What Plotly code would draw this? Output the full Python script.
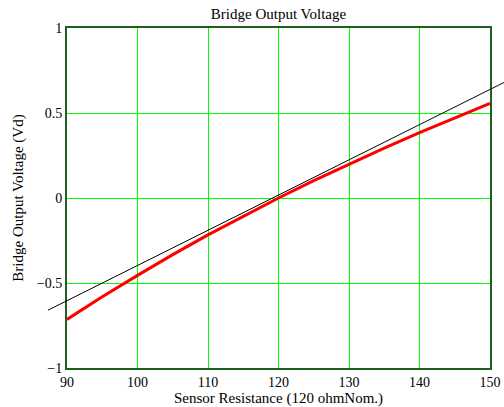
import plotly.graph_objects as go

# Sensor resistance (ohm) and bridge output (V)
resistance = [90, 95, 100, 105, 110, 115, 120, 125, 130, 135, 140, 145, 150]
vd_bridge = [-0.714, -0.581, -0.455, -0.333, -0.217, -0.106, 0.0,
             0.102, 0.200, 0.294, 0.385, 0.472, 0.556]

# Linear approximation line (extends past the plot frame)
lin_r = [87.3, 152.0]
lin_v = [-0.66, 0.68]

x_ticks = [90, 100, 110, 120, 130, 140, 150]
y_ticks = [-1, -0.5, 0, 0.5, 1]

W, H = 504, 407
L, R, T, B = 40, 0, 28, 39
plot_w = W - L - R
px_left, px_right = 67, 490
dom0 = (px_left - L) / plot_w
dom1 = (px_right - L) / plot_w
x0, x1 = 90, 150
scale = (x1 - x0) / (px_right - px_left)
x2_range = [x0 - (px_left - L) * scale, x1 + (W - R - px_right) * scale]

font = "Liberation Serif, Times New Roman, serif"

fig = go.Figure()
fig.add_trace(go.Scatter(x=resistance, y=vd_bridge, mode="lines",
                         xaxis="x", yaxis="y",
                         line=dict(color="#ff0000", width=3), showlegend=False))
fig.add_trace(go.Scatter(x=lin_r, y=lin_v, mode="lines", xaxis="x2", yaxis="y2",
                         line=dict(color="black", width=1), showlegend=False))

fig.update_layout(
    width=W, height=H,
    margin=dict(l=L, r=R, t=T, b=B, autoexpand=False),
    paper_bgcolor="white", plot_bgcolor="rgba(0,0,0,0)",
    font=dict(family=font, size=14, color="black"),
    title=dict(text="Bridge Output Voltage", x=(px_left + px_right) / 2 / W,
               xanchor="center", y=1 - 14 / H, yanchor="middle",
               font=dict(family=font, size=15, color="black")),
    xaxis=dict(domain=[dom0, dom1], range=[x0, x1], tickvals=x_ticks,
               showgrid=True, gridcolor="#00ff00", gridwidth=1,
               showline=True, linecolor="#1f5f1f", linewidth=2, mirror=True,
               ticks="", zeroline=False, anchor="y", automargin=False,
               tickfont=dict(family=font, size=14),
               title=dict(text="Sensor Resistance (120 ohmNom.)",
                          font=dict(family=font, size=15), standoff=2)),
    yaxis=dict(domain=[0, 1], range=[-1, 1], tickvals=y_ticks,
               ticktext=["\u22121", "\u22120.5", "0", "0.5", "1"],
               showgrid=True, gridcolor="#00ff00", gridwidth=1,
               showline=True, linecolor="#1f5f1f", linewidth=2, mirror=True,
               ticks="", zeroline=False, anchor="x", automargin=False,
               tickfont=dict(family=font, size=14),
               title=dict(text="Bridge Output Voltage (Vd)",
                          font=dict(family=font, size=15), standoff=10)),
    xaxis2=dict(domain=[0, 1], range=x2_range, visible=False, anchor="y2",
                showgrid=False, zeroline=False),
    yaxis2=dict(domain=[0, 1], range=[-1, 1], visible=False, anchor="x2",
                showgrid=False, zeroline=False),
)

fig.write_html("out.html", config={"displayModeBar": False},
               post_script="document.body.style.margin='0';"
                           "document.body.style.padding='0';")
